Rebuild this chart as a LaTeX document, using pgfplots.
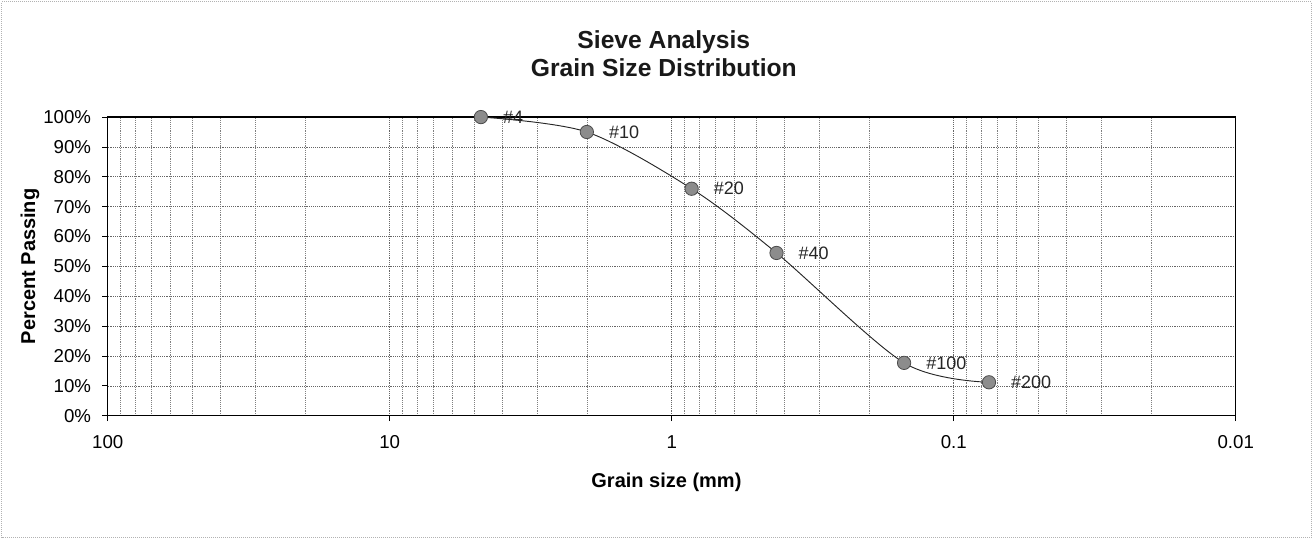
\documentclass[border=0pt]{standalone}
\usepackage{fontspec}
\setmainfont{Liberation Sans}
\usepackage{pgfplots}
\pgfplotsset{compat=1.18}
\begin{document}
\begin{tikzpicture}
\path[use as bounding box] (-80.8pt,-91.7pt) rectangle (903.2pt,311.8pt);
\draw[black!30, densely dotted, line width=0.5pt] (-79.6pt,-91.2pt) rectangle (902.4pt,310.6pt);
\begin{axis}[
  at={(0,0)}, anchor=south west,
  scale only axis, width=846pt, height=224pt,
  xmode=log, x dir=reverse, xmin=0.01, xmax=100,
  ymin=0, ymax=100,
  xtick={0.01,0.1,1,10,100}, xticklabels={0.01,0.1,1,10,100},
  minor xtick={0.02,0.03,0.04,0.05,0.06,0.07,0.08,0.09,0.2,0.3,0.4,0.5,0.6,0.7,0.8,0.9,2,3,4,5,6,7,8,9,20,30,40,50,60,70,80,90},
  ytick={0,10,20,30,40,50,60,70,80,90,100},
  yticklabels={0\%,10\%,20\%,30\%,40\%,50\%,60\%,70\%,80\%,90\%,100\%},
  xmajorgrids, xminorgrids, ymajorgrids,
  major grid style={densely dotted, black!60, line width=0.5pt},
  minor grid style={densely dotted, black!50, line width=0.5pt},
  tick pos=left, tick align=outside, major tick length=4pt, minor tick length=0pt,
  tick style={black, line width=0.6pt},
  axis line style={black, line width=1pt},
  ticklabel style={font=\fontsize{14}{16}\selectfont},
  xticklabel style={yshift=-7.5pt},
  yticklabel style={xshift=-5pt},
  xlabel={Grain size (mm)},
  ylabel={Percent Passing},
  xlabel style={at={(axis description cs:0.4953,-0.2219)}, anchor=center, font=\bfseries\fontsize{15}{17}\selectfont},
  ylabel style={at={(axis description cs:-0.0689,0.5)}, anchor=center, font=\bfseries\fontsize{15}{17}\selectfont},
  clip=false,
]
\addplot[smooth, black!85, line width=0.7pt,
  mark=*, mark size=5pt, mark options={fill=black!45, draw=black!70, line width=0.6pt},
  point meta=explicit symbolic,
  nodes near coords={\#\pgfplotspointmeta},
  nodes near coords style={anchor=west, xshift=13pt, font=\fontsize{13.5}{15}\selectfont, text=black!85}]
coordinates {
  (4.75,100) [4]
  (2.0,95) [10]
  (0.85,76) [20]
  (0.425,54.5) [40]
  (0.15,17.7) [100]
  (0.075,11.2) [200]
};
\node[align=center, font=\bfseries\fontsize{18.5}{21}\selectfont, text=black!90] at (axis description cs:0.493,1.211) {Sieve Analysis\\Grain Size Distribution};
\end{axis}
\end{tikzpicture}
\end{document}
